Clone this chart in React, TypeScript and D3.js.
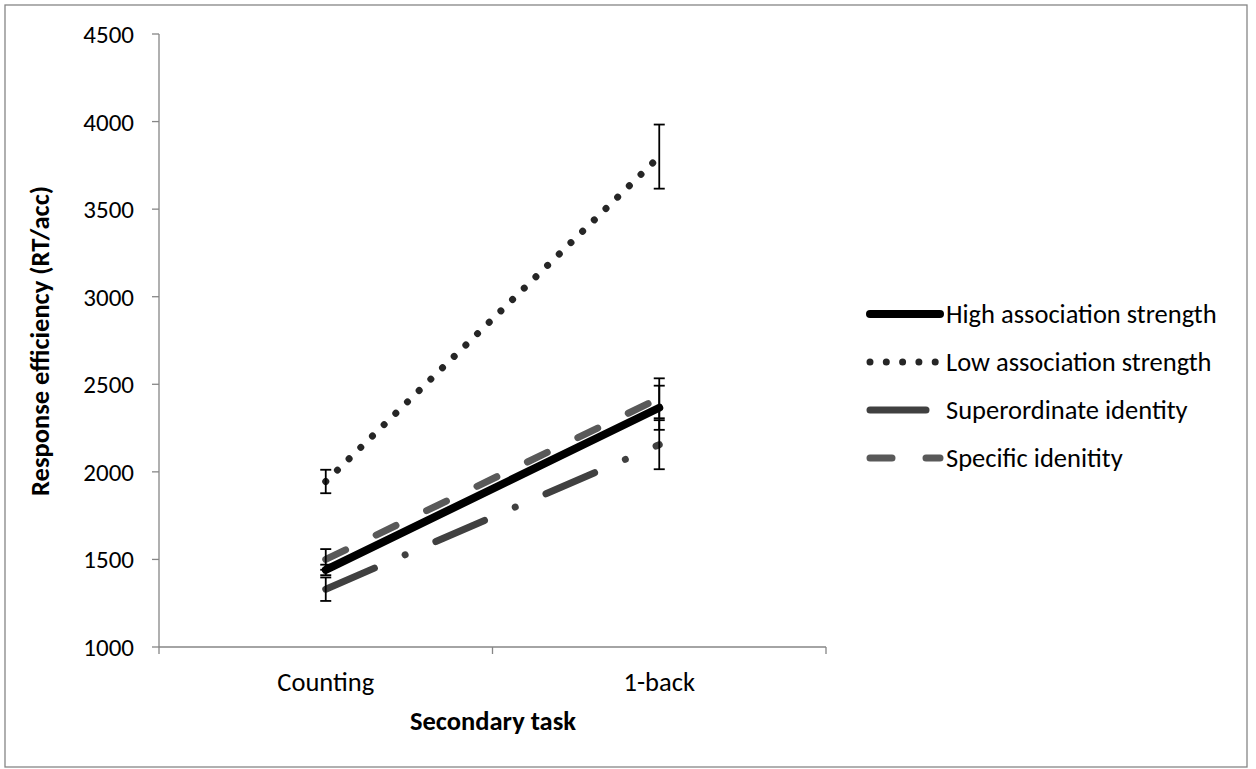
import React from "react";
import * as d3 from "d3";

// ---- data ----
const categories = ["Counting", "1-back"];
const seriesNames = [
  "High association strength",
  "Low association strength",
  "Superordinate identity",
  "Specific idenitity",
];
const highValues = [1440, 2366];
const highErrors = [30, 126];
const lowValues = [1945, 3800];
const lowErrors = [67, 183];
const superValues = [1330, 2155];
const superErrors = [67, 140];
const specificValues = [1500, 2420];
const specificErrors = [59, 114];
const yTicks = [1000, 1500, 2000, 2500, 3000, 3500, 4000, 4500];
const xTitle = "Secondary task";
const yTitle = "Response efficiency (RT/acc)";

const W = 1256;
const H = 769;
const FONT = "Calibri, Carlito, Lato, sans-serif";
const AXIS = "#868686";
const FS = 26.5;

const styles = [
  { color: "#000000", width: 8, dash: "none" },
  { color: "#262626", width: 7, dash: "0.001 16.3" },
  { color: "#404040", width: 7, dash: "53 33.5 0.001 33.5" },
  { color: "#595959", width: 7, dash: "22 34" },
];

export default function App() {
  const x = d3.scalePoint<string>().domain(categories).range([159, 826]).padding(0.5);
  const y = d3.scaleLinear().domain([1000, 4500]).range([647, 34]);

  const series = [
    { name: seriesNames[0], values: highValues, errors: highErrors },
    { name: seriesNames[1], values: lowValues, errors: lowErrors },
    { name: seriesNames[2], values: superValues, errors: superErrors },
    { name: seriesNames[3], values: specificValues, errors: specificErrors },
  ];

  const line = d3
    .line<number>()
    .x((_, i) => x(categories[i]) as number)
    .y((d) => y(d));

  const xTickPos = [159, (159 + 826) / 2, 826];
  const legendX0 = 870;
  const legendX1 = 940;
  const legendY = [314, 362, 410, 458];

  return (
    <div style={{ position: "absolute", left: 0, top: 0 }}>
      <svg width={W} height={H} style={{ display: "block", background: "#fff" }} fontFamily={FONT}>
        <rect x={5} y={5} width={1242} height={762} fill="#fff" stroke={AXIS} strokeWidth={1.3} />
        {/* y axis */}
        <line x1={159} x2={159} y1={y(4500)} y2={y(1000)} stroke={AXIS} strokeWidth={1.3} />
        {yTicks.map((t) => (
          <g key={t}>
            <line x1={152} x2={159} y1={y(t)} y2={y(t)} stroke={AXIS} strokeWidth={1.3} />
            <text x={134} y={y(t) + 9} textAnchor="end" fontSize={25} fill="#000">
              {t}
            </text>
          </g>
        ))}
        {/* x axis */}
        <line x1={159} x2={826} y1={y(1000)} y2={y(1000)} stroke={AXIS} strokeWidth={1.3} />
        {xTickPos.map((p, i) => (
          <line key={i} x1={p} x2={p} y1={y(1000)} y2={y(1000) + 7} stroke={AXIS} strokeWidth={1.3} />
        ))}
        {categories.map((c) => (
          <text key={c} x={x(c)} y={691} textAnchor="middle" fontSize={FS} fill="#000">
            {c}
          </text>
        ))}
        <text x={493} y={730} textAnchor="middle" fontSize={FS} fontWeight="bold" fill="#000">
          {xTitle}
        </text>
        <text
          transform={`translate(49,341) rotate(-90)`}
          textAnchor="middle"
          fontSize={FS}
          fontWeight="bold"
          fill="#000"
        >
          {yTitle}
        </text>
        {/* lines */}
        {series.map((s, i) => (
          <path
            key={s.name}
            d={line(s.values) as string}
            fill="none"
            stroke={styles[i].color}
            strokeWidth={styles[i].width}
            strokeLinecap="round"
            strokeDasharray={styles[i].dash}
          />
        ))}
        {/* error bars */}
        {series.map((s) =>
          s.values.map((v, j) => {
            const cx = x(categories[j]) as number;
            const top = y(v + s.errors[j]);
            const bot = y(v - s.errors[j]);
            return (
              <g key={s.name + j} stroke="#000" strokeWidth={1.8}>
                <line x1={cx} x2={cx} y1={top} y2={bot} />
                <line x1={cx - 5.5} x2={cx + 5.5} y1={top} y2={top} />
                <line x1={cx - 5.5} x2={cx + 5.5} y1={bot} y2={bot} />
              </g>
            );
          })
        )}
        {/* legend */}
        {series.map((s, i) => (
          <g key={"lg" + i}>
            <line
              x1={legendX0}
              x2={legendX1}
              y1={legendY[i]}
              y2={legendY[i]}
              stroke={styles[i].color}
              strokeWidth={styles[i].width}
              strokeLinecap="round"
              strokeDasharray={i === 2 ? "56 40" : styles[i].dash}
            />
            <text x={946} y={legendY[i] + 9} fontSize={FS} fill="#000">
              {s.name}
            </text>
          </g>
        ))}
      </svg>
    </div>
  );
}
